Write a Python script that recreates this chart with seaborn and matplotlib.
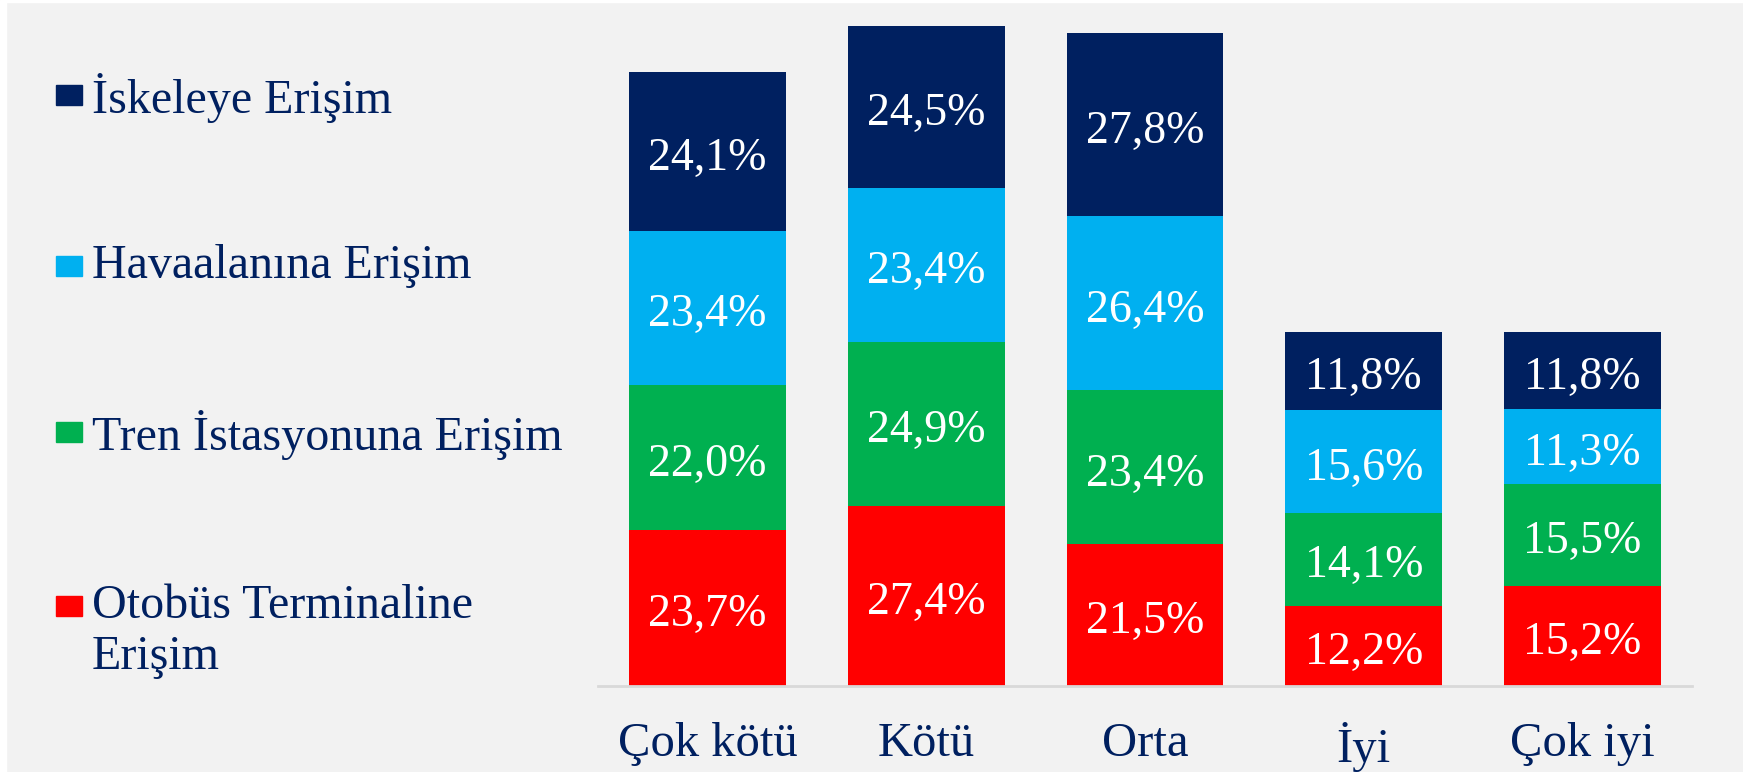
import matplotlib
matplotlib.use("Agg")
import matplotlib.pyplot as plt
from matplotlib.patches import Rectangle
import seaborn as sns
import pandas as pd
import numpy as np

# data
categories = ["Çok kötü", "Kötü", "Orta", "İyi", "Çok iyi"]
otobus = [23.7, 27.4, 21.5, 12.2, 15.2]
tren = [22.0, 24.9, 23.4, 14.1, 15.5]
havaalani = [23.4, 23.4, 26.4, 15.6, 11.3]
iskele = [24.1, 24.5, 27.8, 11.8, 11.8]

series_names = ["Otobüs Terminaline\nErişim", "Tren İstasyonuna Erişim",
                "Havaalanına Erişim", "İskeleye Erişim"]
series_colors = ["#FF0000", "#00B050", "#00B0F0", "#002060"]

sns.set_style("white")
plt.rcParams["font.family"] = ["Liberation Serif", "DejaVu Serif"]

bg = "#F2F2F2"
navy = "#002060"

fig = plt.figure(figsize=(17.43, 7.72), dpi=100, facecolor=bg)
ax = fig.add_axes([598 / 1743, 86 / 772, 1094 / 1743, 686 / 772])
ax.set_facecolor(bg)

values = np.array([otobus, tren, havaalani, iskele])
cum = values.cumsum(axis=0)

# stacked bars: draw the tallest (cumulative) first, then overlay lower ones
for i in range(len(series_names) - 1, -1, -1):
    df = pd.DataFrame({"cat": categories, "val": cum[i]})
    sns.barplot(data=df, x="cat", y="val", color=series_colors[i],
                saturation=1, width=0.717, ax=ax, edgecolor="none")

# value labels in the middle of each segment
for i in range(len(series_names)):
    for j, cat in enumerate(categories):
        v = values[i, j]
        mid = cum[i, j] - v / 2
        ax.annotate(f"{v:.1f}".replace(".", ",") + "%", (j, mid),
                    xytext=(0, -5), textcoords="offset points",
                    ha="center", va="center", color="white", fontsize=33)

ax.set_xlim(-0.5, 4.5)
ax.set_ylim(0, 686 / 6.585)
ax.set_xlabel("")
ax.set_ylabel("")
ax.set_yticks([])
for s in ["top", "right", "left"]:
    ax.spines[s].set_visible(False)
ax.spines["bottom"].set_color("#D9D9D9")
ax.spines["bottom"].set_linewidth(2)
ax.tick_params(axis="x", length=0, pad=26, labelsize=35, labelcolor=navy)

# legend on the left, top series first
legend_y = [95, 266, 432, 606]
for k, idx in enumerate([3, 2, 1, 0]):
    y = legend_y[k]
    fig.patches.append(Rectangle((56 / 1743, 1 - (y + 10) / 772), 26 / 1743, 20 / 772,
                                 transform=fig.transFigure, color=series_colors[idx]))
    fig.text(92 / 1743, 1 - (y - 22) / 772, series_names[idx], ha="left", va="top",
             color=navy, fontsize=34.6, linespacing=1.2)

# thin white frame at top/left like the source
fig.patches.append(Rectangle((0, 0), 6 / 1743, 1, transform=fig.transFigure,
                             color="white", zorder=10))
fig.patches.append(Rectangle((0, 1 - 2 / 772), 1, 2 / 772, transform=fig.transFigure,
                             color="white", zorder=10))

fig.savefig("out.png", dpi=100, facecolor=bg)
